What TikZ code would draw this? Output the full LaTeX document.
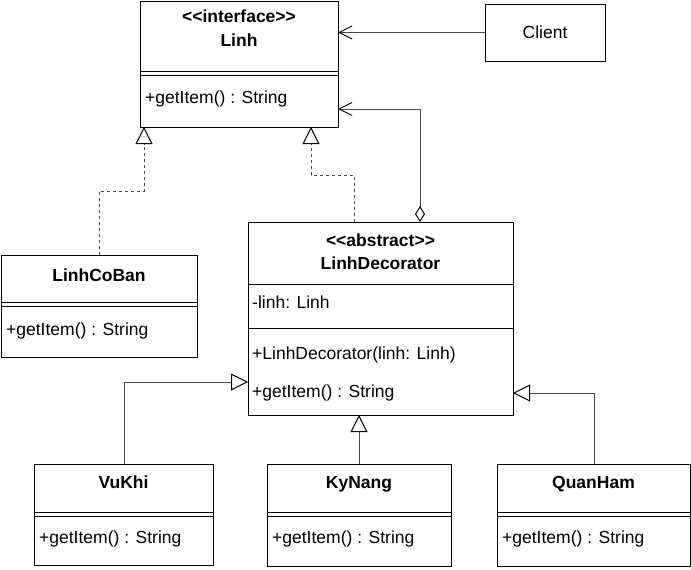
\documentclass[tikz,border=0pt]{standalone}
\usepackage{fontspec}
\setmainfont{Liberation Sans}[Ligatures=TeXOff]
\usetikzlibrary{arrows.meta}
\begin{document}
\begin{tikzpicture}[x=1pt,y=-1pt,
  box/.style={draw=black, line width=1pt, inner sep=0pt, outer sep=0pt, anchor=north west},
  ttl/.style={font=\fontsize{17.5}{23}\selectfont\bfseries, inner sep=0pt, anchor=base},
  txt/.style={font=\fontsize{17.5}{23}\selectfont, inner sep=0pt, anchor=base},
  mth/.style={font=\fontsize{17.5}{23}\selectfont, inner sep=0pt, anchor=base west},
  sep/.style={draw=black, line width=1pt},
  conn/.style={draw=black!70, line width=1pt},
  gen/.style={conn, -{Triangle[length=17pt, width=17pt, color=black, fill=white]}},
  real/.style={gen, dash pattern=on 3pt off 3pt},
  agg/.style={conn, {Diamond[length=16pt, width=10pt, color=black, fill=white]}-{Straight Barb[length=13pt, width=13pt, color=black]}},
  assoc/.style={conn, -{Straight Barb[length=13pt, width=13pt, color=black]}}
]
\useasboundingbox (0,0) rectangle (691,570);

% Linh
\node[box, minimum width=198pt, minimum height=126pt] (linh) at (140,1) {};
\draw[sep] ([yshift=-70pt]linh.north west) -- ([yshift=-70pt]linh.north east);
\draw[sep] ([yshift=-74pt]linh.north west) -- ([yshift=-74pt]linh.north east);
\node[ttl] (linhS) at (239,22) {<<interface>>};
\node[ttl] (linhT) at (239,46) {Linh};
\node[mth] (linhM) at (145,103) {+getItem() : String};

% Client
\node[box, minimum width=120pt, minimum height=57pt] (client) at (485,4) {};
\node[txt] (clientT) at (545,38) {Client};

% LinhCoBan
\node[box, minimum width=196pt, minimum height=102pt] (coban) at (1,255) {};
\draw[sep] ([yshift=-47pt]coban.north west) -- ([yshift=-47pt]coban.north east);
\draw[sep] ([yshift=-51pt]coban.north west) -- ([yshift=-51pt]coban.north east);
\node[ttl] (cobanT) at (99,281) {LinhCoBan};
\node[mth] (cobanM) at (6,335) {+getItem() : String};

% LinhDecorator
\node[box, minimum width=265pt, minimum height=193pt] (decor) at (248,222) {};
\draw[sep] ([yshift=-62pt]decor.north west) -- ([yshift=-62pt]decor.north east);
\draw[sep] ([yshift=-106pt]decor.north west) -- ([yshift=-106pt]decor.north east);
\node[ttl] (decorS) at (380.5,246) {<<abstract>>};
\node[ttl] (decorT) at (380.5,269) {LinhDecorator};
\node[mth] (decorA) at (252,308) {-linh: Linh};
\node[mth] (decorC) at (252,359) {+LinhDecorator(linh: Linh)};
\node[mth] (decorM) at (252,397) {+getItem() : String};

% VuKhi
\node[box, minimum width=179pt, minimum height=101pt] (vukhi) at (34,464) {};
\draw[sep] ([yshift=-48pt]vukhi.north west) -- ([yshift=-48pt]vukhi.north east);
\draw[sep] ([yshift=-52pt]vukhi.north west) -- ([yshift=-52pt]vukhi.north east);
\node[ttl] (vukhiT) at (123.5,488) {VuKhi};
\node[mth] (vukhiM) at (39,543) {+getItem() : String};

% KyNang
\node[box, minimum width=184pt, minimum height=102pt] (kynang) at (267,464) {};
\draw[sep] ([yshift=-48pt]kynang.north west) -- ([yshift=-48pt]kynang.north east);
\draw[sep] ([yshift=-52pt]kynang.north west) -- ([yshift=-52pt]kynang.north east);
\node[ttl] (kynangT) at (359,488) {KyNang};
\node[mth] (kynangM) at (272,543) {+getItem() : String};

% QuanHam
\node[box, minimum width=193pt, minimum height=102pt] (quanham) at (497,464) {};
\draw[sep] ([yshift=-48pt]quanham.north west) -- ([yshift=-48pt]quanham.north east);
\draw[sep] ([yshift=-52pt]quanham.north west) -- ([yshift=-52pt]quanham.north east);
\node[ttl] (quanhamT) at (593.5,488) {QuanHam};
\node[mth] (quanhamM) at (502,543) {+getItem() : String};

% connectors
\draw[assoc] (client.west) -- (client.west -| linh.east);
\draw[agg] ([xshift=172pt]decor.north west) |- ([yshift=-108pt]linh.north east);
\draw[real] ([xshift=106pt]decor.north west) -- ++(0,-47) -| ([xshift=171pt]linh.south west);
\draw[real] ([xshift=98pt]coban.north west) -- ++(0,-64) -| ([xshift=4pt]linh.south west);
\draw[gen] ([xshift=90pt]vukhi.north west) |- ([yshift=-160pt]decor.north west);
\draw[gen] (kynang.north) -- (kynang.north |- decor.south);
\draw[gen] ([xshift=97pt]quanham.north west) |- ([yshift=-171pt]decor.north east);
\end{tikzpicture}
\end{document}
